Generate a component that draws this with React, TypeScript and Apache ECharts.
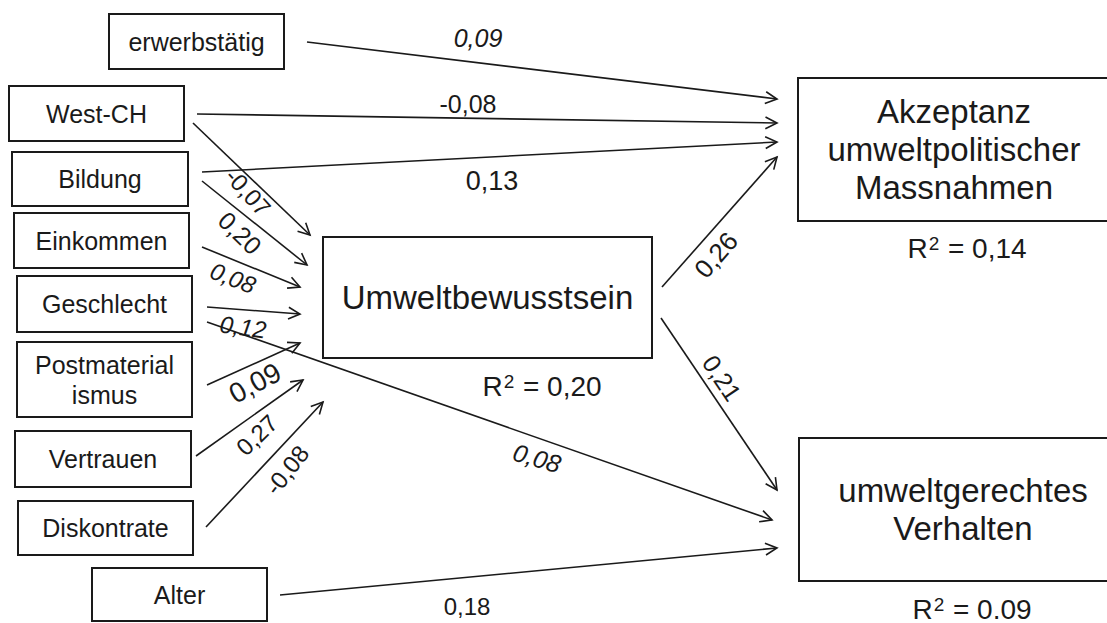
import { useEffect, useRef } from 'react';
import * as echarts from 'echarts';

// ---- data ----
const nodeNames = [
  'erwerbstätig', 'West-CH', 'Bildung', 'Einkommen', 'Geschlecht',
  'Postmaterial\nismus', 'Vertrauen', 'Diskontrate', 'Alter',
  'Umweltbewusstsein', 'Akzeptanz\numweltpolitischer\nMassnahmen', 'umweltgerechtes\nVerhalten',
];
const pathFrom = [0, 1, 2, 9, 9, 4, 8, 1, 2, 3, 4, 5, 6, 7];
const pathTo = [10, 10, 10, 10, 11, 11, 11, 9, 9, 9, 9, 9, 9, 9];
const pathCoefficients = [0.09, -0.08, 0.13, 0.26, 0.21, 0.08, 0.18, -0.07, 0.20, 0.08, 0.12, 0.09, 0.27, -0.08];
const explainedNodes = [9, 10, 11];
const rSquared = [0.20, 0.14, 0.09];
const rSquaredSeparator = [',', ',', '.'];

// ---- layout (diagram coordinates, same units as the hidden axes) ----
const nodeBoxes: number[][] = [
  [109, 14, 284, 69],
  [9, 86, 184, 141],
  [12, 152, 188, 206],
  [14, 213, 189, 268],
  [17, 276, 192, 332],
  [17, 342, 192, 417],
  [15, 431, 191, 487],
  [18, 501, 193, 555],
  [92, 568, 267, 621],
  [323, 237, 652, 358],
  [798, 78, 1110, 221],
  [799, 438, 1127, 581],
];
// the two outcome boxes run past the right edge of the page: no right side is drawn
const openRight = [false, false, false, false, false, false, false, false, false, false, true, true];
const nodeFontSize = [25, 25, 25, 25, 25, 25, 25, 25, 25, 33, 33, 33];
const nodeLineHeight = [30, 30, 30, 30, 30, 30, 30, 30, 30, 38, 38, 38];

// x1, y1, x2, y2, labelX, labelY, rotationDeg, fontSize, italic
const pathLayout: any[][] = [
  [307, 42, 777, 99, 478, 38, 0, 25, true],
  [197, 114, 777, 123, 468, 104, 0, 25, false],
  [202, 172, 777, 142, 492, 181, 0, 27, false],
  [662, 287, 777, 157, 716, 255, 49, 26, false],
  [661, 318, 777, 490, 722, 378, -56, 25, false],
  [207, 322, 772, 520, 537, 458, -16, 25, true],
  [280, 595, 777, 548, 467, 606, 0, 24, false],
  [193, 123, 310, 235, 248, 192, -48, 24, false],
  [202, 181, 307, 265, 240, 233, -44, 25, false],
  [202, 247, 300, 287, 233, 278, -21, 24, true],
  [207, 307, 300, 314, 243, 327, -8, 24, true],
  [207, 385, 300, 343, 255, 383, 28, 28, false],
  [196, 456, 303, 380, 257, 435, 44, 24, false],
  [206, 527, 323, 402, 287, 470, 52, 24, false],
];
const rSquaredPos = [[542, 386], [967, 248], [972, 609]];

const FONT = '"Liberation Sans", Arial, Helvetica, sans-serif';
const INK = '#1a1a1a';

const fmt = (v: number, sep = ',') => v.toFixed(2).replace('.', sep);

export default function App() {
  const ref = useRef<HTMLDivElement>(null);
  useEffect(() => {
    document.body.style.margin = '0';
    document.body.style.overflow = 'hidden';
    const chart = echarts.init(ref.current!, null, { renderer: 'svg' });

    const boxSeries = {
      type: 'custom',
      coordinateSystem: 'cartesian2d',
      silent: true,
      clip: false,
      data: nodeNames.map((_, i) => [i]),
      renderItem: (params: any, api: any) => {
        const i = params.dataIndex;
        const [x0, y0, x1, y1] = nodeBoxes[i];
        const a = api.coord([x0, y0]);
        const c = api.coord([x1, y1]);
        const mid = [(a[0] + c[0]) / 2, (a[1] + c[1]) / 2];
        const st = { stroke: INK, lineWidth: 2, lineCap: 'square' };
        const children: any[] = [];
        if (openRight[i]) {
          const far = a[0] + 600;
          children.push({ type: 'line', shape: { x1: a[0], y1: a[1], x2: far, y2: a[1] }, style: st });
          children.push({ type: 'line', shape: { x1: a[0], y1: c[1], x2: far, y2: c[1] }, style: st });
          children.push({ type: 'line', shape: { x1: a[0], y1: a[1], x2: a[0], y2: c[1] }, style: st });
        } else {
          children.push({
            type: 'rect',
            shape: { x: a[0], y: a[1], width: c[0] - a[0], height: c[1] - a[1] },
            style: { fill: 'none', stroke: INK, lineWidth: 2 },
          });
        }
        children.push({
          type: 'text',
          x: mid[0],
          y: mid[1],
          style: {
            text: nodeNames[i],
            fill: INK,
            fontFamily: FONT,
            fontSize: nodeFontSize[i],
            lineHeight: nodeLineHeight[i],
            align: 'center',
            verticalAlign: 'middle',
          },
        });
        return { type: 'group', children };
      },
    };

    const pathSeries = {
      type: 'custom',
      coordinateSystem: 'cartesian2d',
      silent: true,
      clip: false,
      data: pathFrom.map((f, i) => [f, pathTo[i], pathCoefficients[i]]),
      renderItem: (params: any, api: any) => {
        const i = params.dataIndex;
        const L = pathLayout[i];
        const a = api.coord([L[0], L[1]]);
        const b = api.coord([L[2], L[3]]);
        const lp = api.coord([L[4], L[5]]);
        const ang = Math.atan2(b[1] - a[1], b[0] - a[0]);
        const len = 13;
        const half = (27 * Math.PI) / 180;
        const w1 = [b[0] - len * Math.cos(ang - half), b[1] - len * Math.sin(ang - half)];
        const w2 = [b[0] - len * Math.cos(ang + half), b[1] - len * Math.sin(ang + half)];
        return {
          type: 'group',
          children: [
            {
              type: 'line',
              shape: { x1: a[0], y1: a[1], x2: b[0], y2: b[1] },
              style: { stroke: INK, lineWidth: 1.6 },
            },
            {
              type: 'polyline',
              shape: { points: [w1, b, w2] },
              style: { stroke: INK, lineWidth: 1.6, fill: 'none' },
            },
            {
              type: 'text',
              x: lp[0],
              y: lp[1],
              rotation: (L[6] * Math.PI) / 180,
              style: {
                text: fmt(api.value(2)),
                fill: INK,
                fontFamily: FONT,
                fontSize: L[7],
                fontStyle: L[8] ? 'italic' : 'normal',
                align: 'center',
                verticalAlign: 'middle',
              },
            },
          ],
        };
      },
    };

    const rsqSeries = {
      type: 'custom',
      coordinateSystem: 'cartesian2d',
      silent: true,
      clip: false,
      data: explainedNodes.map((n, i) => [n, rSquared[i]]),
      renderItem: (params: any, api: any) => {
        const i = params.dataIndex;
        const p = api.coord(rSquaredPos[i]);
        return {
          type: 'text',
          x: p[0],
          y: p[1],
          style: {
            text: '{r|R}{s|2}{r| = ' + fmt(api.value(1), rSquaredSeparator[i]) + '}',
            fill: INK,
            fontFamily: FONT,
            fontSize: 28,
            align: 'center',
            verticalAlign: 'middle',
            rich: {
              r: { fontFamily: FONT, fontSize: 28, lineHeight: 30, fill: INK },
              s: { fontFamily: FONT, fontSize: 19, lineHeight: 19, fill: INK, verticalAlign: 'top', padding: [1, 1, 0, 1] },
            },
          },
        };
      },
    };

    chart.setOption({
      animation: false,
      backgroundColor: '#fff',
      grid: { left: 0, right: 0, top: 0, bottom: 0 },
      xAxis: { type: 'value', min: 0, max: 1107, show: false },
      yAxis: { type: 'value', min: 0, max: 623, inverse: true, show: false },
      series: [pathSeries, boxSeries, rsqSeries],
    });
    return () => chart.dispose();
  }, []);
  return <div ref={ref} style={{ width: 1107, height: 623, background: '#fff', overflow: 'hidden' }} />;
}
